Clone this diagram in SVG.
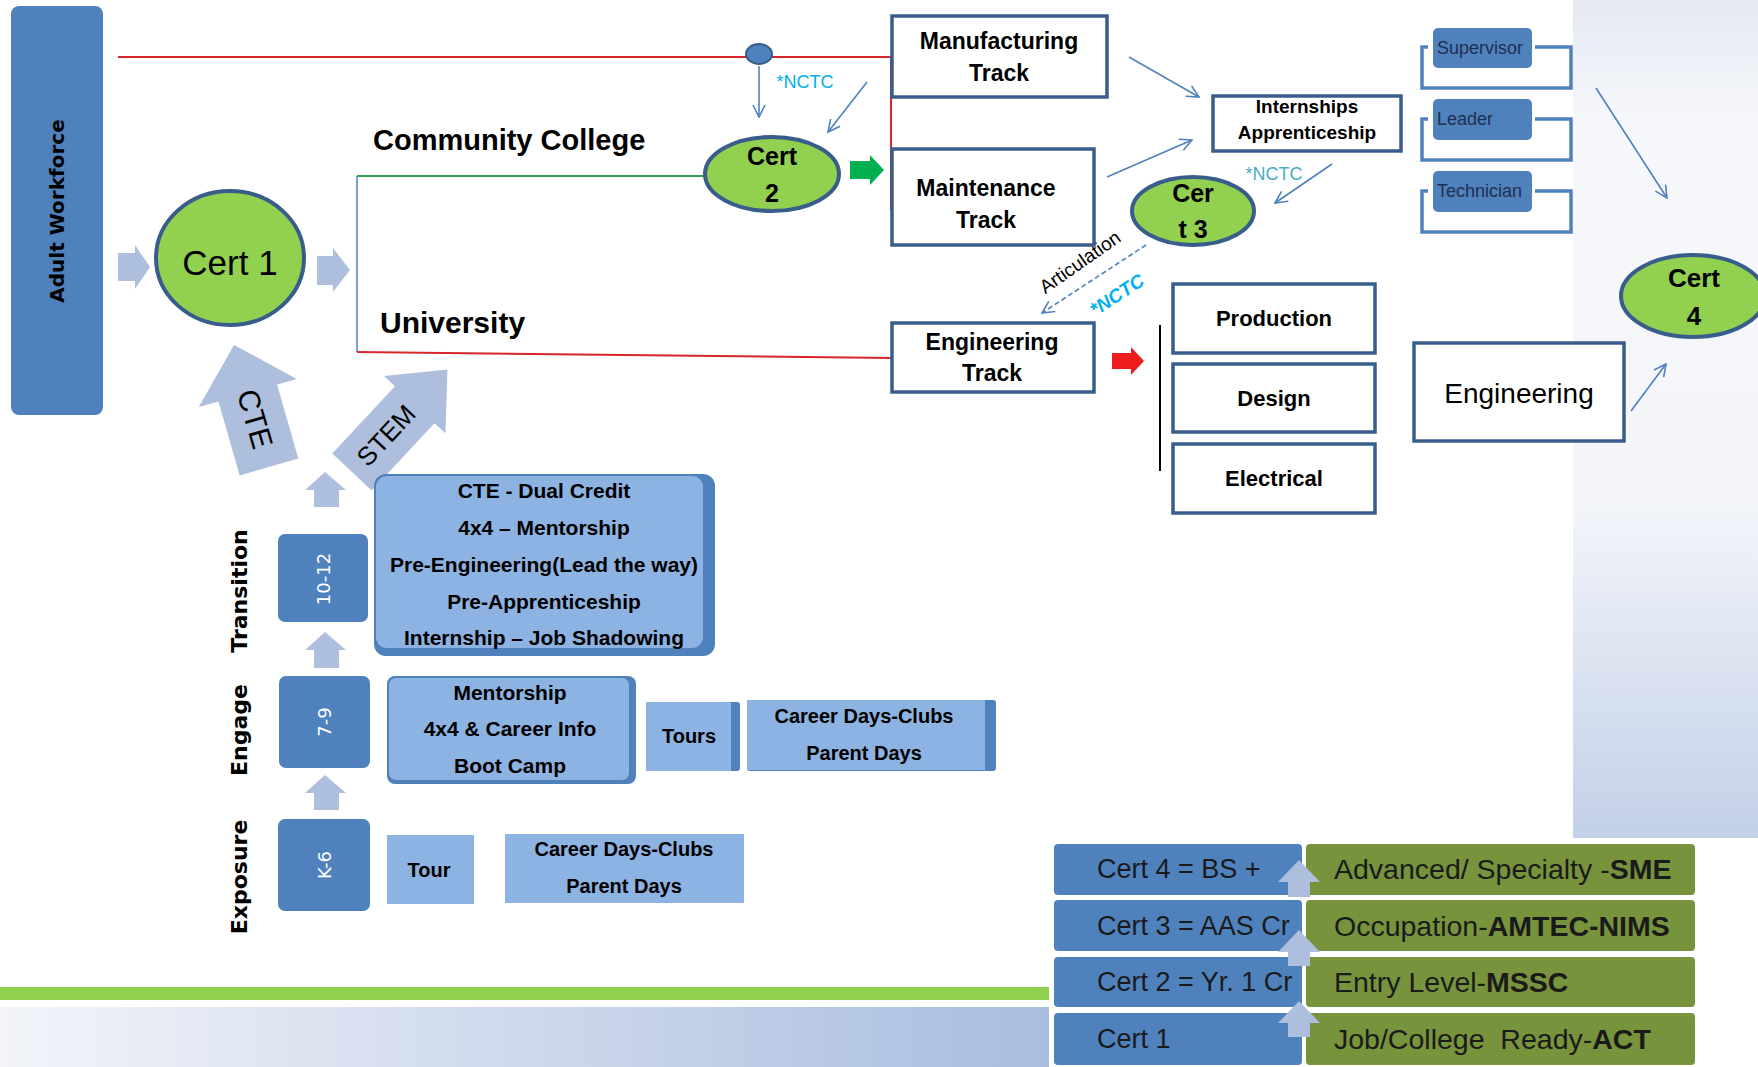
<svg xmlns="http://www.w3.org/2000/svg" width="1758" height="1067" viewBox="0 0 1758 1067">
<defs>
<linearGradient id="gRight" x1="0" y1="0" x2="0" y2="1">
<stop offset="0" stop-color="#e4e9f2"/><stop offset="0.15" stop-color="#f7f8fb"/><stop offset="0.6" stop-color="#f3f5fa"/><stop offset="1" stop-color="#c2d0e8"/>
</linearGradient>
<linearGradient id="gBottom" x1="0" y1="0" x2="1" y2="0">
<stop offset="0" stop-color="#f2f4f9"/><stop offset="1" stop-color="#a9bddf"/>
</linearGradient>
<marker id="arr" viewBox="0 0 14 14" refX="13" refY="7" markerWidth="14" markerHeight="14" markerUnits="userSpaceOnUse" orient="auto">
<path d="M1,1 L13,7 L1,13" fill="none" stroke="#4f81bd" stroke-width="1.6"/>
</marker>
<style>
.t{font-family:"Liberation Sans",Arial,sans-serif;fill:#000}
.v{font-family:"DejaVu Sans",Verdana,sans-serif}
.b{font-weight:bold}
.c{text-anchor:middle;dominant-baseline:central}
.box{fill:#fff;stroke:#385d8a;stroke-width:3.5}
.cert{fill:#92d050;stroke:#385d8a;stroke-width:4}
.thin{stroke:#4f81bd;stroke-width:1.6;fill:none}
.blk{fill:#aebfdd}
.dk{fill:#4f81bd}
.lt{fill:#8db3e2}
.brk{fill:none;stroke:#4f81bd;stroke-width:3.5}
.red{stroke:#d9262b;stroke-width:2;fill:none}
</style>
</defs>

<!-- background panels -->
<rect x="1573" y="0" width="185" height="838" fill="url(#gRight)"/>
<rect x="0" y="987" width="1049" height="13" fill="#92d050"/>
<rect x="0" y="1007" width="1049" height="60" fill="url(#gBottom)"/>

<!-- connectors -->
<g id="connectors">
<path class="red" d="M118,57 H891 V210"/>
<path d="M357,176 H705" stroke="#2e9e4f" stroke-width="2" fill="none"/>
<path d="M357,176 V352" stroke="#4f81bd" stroke-width="1.5" fill="none"/>
<path class="red" d="M357,352 L892,358"/>
<path class="thin" d="M759,66 V117" marker-end="url(#arr)"/>
<path class="thin" d="M867,82 L828,132" marker-end="url(#arr)"/>
<path class="thin" d="M1129,57 L1199,97" marker-end="url(#arr)"/>
<path class="thin" d="M1107,177 L1192,140" marker-end="url(#arr)"/>
<path class="thin" d="M1332,164 L1275,203" marker-end="url(#arr)"/>
<path class="thin" d="M1596,88 L1667,198" marker-end="url(#arr)"/>
<path class="thin" d="M1631,411 L1666,364" marker-end="url(#arr)"/>
<path class="thin" d="M1146,245 L1042,313" stroke-dasharray="5,3" marker-end="url(#arr)"/>
<path d="M1160,325 V471" stroke="#000" stroke-width="2" fill="none"/>
<!-- block arrows -->
<polygon class="blk" points="118,253 135,253 135,245 150,267 135,289 135,281 118,281"/>
<polygon class="blk" points="317,256 333,256 333,248 350,270 333,292 333,285 317,285"/>
<polygon fill="#00b050" points="850,161 870,161 870,155 884,170 870,185 870,179 850,179"/>
<polygon fill="#ee1c1c" points="1112,353 1131,353 1131,347 1144,361 1131,375 1131,369 1112,369"/>
<polygon class="blk" points="325,472 346,490 339,490 339,507 314,507 314,490 305,490"/>
<polygon class="blk" points="325,632 346,650 339,650 339,668 314,668 314,650 305,650"/>
<polygon class="blk" points="325,775 346,793 339,793 339,810 314,810 314,793 305,793"/>
</g>

<g id="adult-workforce">
<rect x="11" y="6" width="92" height="409" rx="8" class="dk"/>
<text class="t v b c" font-size="20" transform="translate(57,211) rotate(-90)">Adult Workforce</text>
</g>

<g id="labels">
<text class="t b" x="373" y="150" font-size="29">Community College</text>
<text class="t b" x="380" y="333" font-size="30">University</text>
<text class="t c" x="805" y="82" font-size="18" style="fill:#00b0f0">*NCTC</text>
<text class="t c" x="1274" y="174" font-size="18" style="fill:#4bacc6">*NCTC</text>
<text class="t c" font-size="19" transform="translate(1080,262) rotate(-35)">Articulation</text>
<text class="t b c" font-size="19" font-style="italic" style="fill:#00b0f0" transform="translate(1117,295) rotate(-33)">*NCTC</text>
</g>

<g id="cert1">
<ellipse cx="230" cy="258" rx="74" ry="67" class="cert"/>
<text class="t c" x="230" y="262" font-size="35">Cert 1</text>
</g>

<g id="cte-arrow" transform="translate(269,467) rotate(-16)">
<polygon class="blk" points="-30.5,0 30.5,0 30.5,-77 51,-77 0,-127 -51,-77 -30.5,-77"/>
<text class="t c" font-size="30" transform="translate(0,-50) rotate(90)">CTE</text>
</g>

<g id="stem-arrow" transform="translate(352,472) rotate(43)">
<polygon class="blk" points="-27,0 27,0 27,-92 42,-92 0,-140 -42,-92 -27,-92"/>
<text class="t c" font-size="26" transform="translate(0,-50) rotate(-90)">STEM</text>
</g>

<g id="blue-dot">
<ellipse cx="759" cy="54" rx="13" ry="10" fill="#4f81bd" stroke="#385d8a" stroke-width="2"/>
</g>

<g id="cert2">
<ellipse cx="772" cy="174" rx="67" ry="37" class="cert"/>
<text class="t b c" x="772" y="156" font-size="25">Cert</text>
<text class="t b c" x="772" y="193" font-size="25">2</text>
</g>

<g id="manufacturing-track">
<rect x="892" y="16" width="215" height="81" class="box"/>
<text class="t b c" x="999" y="41" font-size="23">Manufacturing</text>
<text class="t b c" x="999" y="73" font-size="23">Track</text>
</g>

<g id="maintenance-track">
<rect x="892" y="149" width="202" height="96" class="box"/>
<text class="t b c" x="986" y="188" font-size="23">Maintenance</text>
<text class="t b c" x="986" y="220" font-size="23">Track</text>
</g>

<g id="engineering-track">
<rect x="892" y="323" width="202" height="69" class="box"/>
<text class="t b c" x="992" y="342" font-size="23">Engineering</text>
<text class="t b c" x="992" y="373" font-size="23">Track</text>
</g>

<g id="internships">
<rect x="1213" y="96" width="188" height="55" class="box"/>
<text class="t b c" x="1307" y="106" font-size="19">Internships</text>
<text class="t b c" x="1307" y="132" font-size="19">Apprenticeship</text>
</g>

<g id="cert3">
<ellipse cx="1193" cy="211" rx="61" ry="34" class="cert"/>
<text class="t b c" x="1193" y="193" font-size="25">Cer</text>
<text class="t b c" x="1193" y="229" font-size="25">t 3</text>
</g>

<g id="supervisor">
<path class="brk" d="M1428,47 H1422 V88 H1571 V47 H1535"/>
<rect x="1433" y="28" width="99" height="40" rx="5" class="dk"/>
<text class="t" x="1437" y="48" font-size="18" dominant-baseline="central" style="fill:#1f2f50">Supervisor</text>
</g>
<g id="leader">
<path class="brk" d="M1428,119 H1422 V160 H1571 V119 H1535"/>
<rect x="1433" y="99" width="99" height="41" rx="5" class="dk"/>
<text class="t" x="1437" y="119" font-size="18" dominant-baseline="central" style="fill:#1f2f50">Leader</text>
</g>
<g id="technician">
<path class="brk" d="M1428,191 H1422 V232 H1571 V191 H1535"/>
<rect x="1433" y="171" width="99" height="41" rx="5" class="dk"/>
<text class="t" x="1437" y="191" font-size="18" dominant-baseline="central" style="fill:#1f2f50">Technician</text>
</g>

<g id="production">
<rect x="1173" y="284" width="202" height="69" class="box"/>
<text class="t b c" x="1274" y="318" font-size="22">Production</text>
</g>
<g id="design">
<rect x="1173" y="364" width="202" height="68" class="box"/>
<text class="t b c" x="1274" y="398" font-size="22">Design</text>
</g>
<g id="electrical">
<rect x="1173" y="444" width="202" height="69" class="box"/>
<text class="t b c" x="1274" y="478" font-size="22">Electrical</text>
</g>

<g id="engineering">
<rect x="1414" y="343" width="210" height="98" class="box"/>
<text class="t c" x="1519" y="393" font-size="28">Engineering</text>
</g>

<g id="cert4">
<ellipse cx="1693" cy="296" rx="72" ry="41" class="cert"/>
<text class="t b c" x="1694" y="278" font-size="26">Cert</text>
<text class="t b c" x="1694" y="316" font-size="26">4</text>
</g>

<!-- stages -->
<g id="stage-transition">
<text class="t v b c" font-size="22" transform="translate(239,591) rotate(-90)">Transition</text>
<rect x="278" y="534" width="90" height="88" rx="7" class="dk"/>
<text class="t v c" font-size="18" style="fill:#fff" transform="translate(323,579) rotate(-90)">10-12</text>
</g>
<g id="stage-engage">
<text class="t v b c" font-size="22" transform="translate(239,730) rotate(-90)">Engage</text>
<rect x="279" y="676" width="91" height="92" rx="7" class="dk"/>
<text class="t v c" font-size="18" style="fill:#fff" transform="translate(324,722) rotate(-90)">7-9</text>
</g>
<g id="stage-exposure">
<text class="t v b c" font-size="22" transform="translate(239,877) rotate(-90)">Exposure</text>
<rect x="278" y="819" width="92" height="92" rx="7" class="dk"/>
<text class="t v c" font-size="18" style="fill:#fff" transform="translate(324,865) rotate(-90)">K-6</text>
</g>

<g id="transition-box">
<rect x="374" y="474" width="341" height="182" rx="12" class="dk"/>
<rect x="376" y="476" width="327" height="172" rx="11" class="lt"/>
<text class="t b c" x="544" y="490" font-size="21">CTE - Dual Credit</text>
<text class="t b c" x="544" y="527" font-size="21">4x4 – Mentorship</text>
<text class="t b c" x="544" y="564" font-size="21">Pre-Engineering(Lead the way)</text>
<text class="t b c" x="544" y="601" font-size="21">Pre-Apprenticeship</text>
<text class="t b c" x="544" y="637" font-size="21">Internship – Job Shadowing</text>
</g>

<g id="engage-box">
<rect x="387" y="676" width="249" height="108" rx="8" class="dk"/>
<rect x="389" y="678" width="240" height="102" rx="7" class="lt"/>
<text class="t b c" x="510" y="692" font-size="21">Mentorship</text>
<text class="t b c" x="510" y="728" font-size="21">4x4 &amp; Career Info</text>
<text class="t b c" x="510" y="765" font-size="21">Boot Camp</text>
</g>
<g id="engage-tours">
<rect x="646" y="702" width="94" height="69" rx="3" class="dk"/>
<rect x="646" y="702" width="85" height="69" class="lt"/>
<text class="t b c" x="689" y="736" font-size="20">Tours</text>
</g>
<g id="engage-career">
<rect x="747" y="700" width="249" height="71" rx="3" class="dk"/>
<rect x="747" y="700" width="238" height="70" class="lt"/>
<text class="t b c" x="864" y="716" font-size="20">Career Days-Clubs</text>
<text class="t b c" x="864" y="753" font-size="20">Parent Days</text>
</g>
<g id="exposure-tour">
<rect x="387" y="835" width="87" height="69" class="lt"/>
<text class="t b c" x="429" y="870" font-size="20">Tour</text>
</g>
<g id="exposure-career">
<rect x="505" y="834" width="239" height="69" class="lt"/>
<text class="t b c" x="624" y="849" font-size="20">Career Days-Clubs</text>
<text class="t b c" x="624" y="886" font-size="20">Parent Days</text>
</g>

<!-- bottom table -->
<g id="cert-levels">
<rect x="1054" y="844" width="248" height="51" rx="4" class="dk"/>
<rect x="1054" y="900" width="248" height="51" rx="4" class="dk"/>
<rect x="1054" y="957" width="248" height="50" rx="4" class="dk"/>
<rect x="1054" y="1013" width="248" height="52" rx="4" class="dk"/>
<rect x="1306" y="844" width="389" height="51" rx="4" fill="#77933c"/>
<rect x="1306" y="900" width="389" height="51" rx="4" fill="#77933c"/>
<rect x="1306" y="957" width="389" height="50" rx="4" fill="#77933c"/>
<rect x="1306" y="1013" width="389" height="52" rx="4" fill="#77933c"/>
<g class="t" font-size="27" style="fill:#1a1a1a" dominant-baseline="central">
<text x="1097" y="869">Cert 4 = BS +</text>
<text x="1097" y="926">Cert 3 = AAS Cr</text>
<text x="1097" y="982">Cert 2 = Yr. 1 Cr</text>
<text x="1097" y="1039">Cert 1</text>
</g>
<g class="t" font-size="28.5" style="fill:#1a1a1a" dominant-baseline="central">
<text x="1334" y="869">Advanced/ Specialty -<tspan font-weight="bold">SME</tspan></text>
<text x="1334" y="926">Occupation-<tspan font-weight="bold">AMTEC-NIMS</tspan></text>
<text x="1334" y="982">Entry Level-<tspan font-weight="bold">MSSC</tspan></text>
<text x="1334" y="1039">Job/College&#160; Ready-<tspan font-weight="bold">ACT</tspan></text>
</g>
<polygon class="blk" points="1299,860 1320,882 1310,882 1310,897 1288,897 1288,882 1278,882"/>
<polygon class="blk" points="1299,930 1320,952 1310,952 1310,966 1288,966 1288,952 1278,952"/>
<polygon class="blk" points="1299,1001 1320,1023 1310,1023 1310,1037 1288,1037 1288,1023 1278,1023"/>
</g>
</svg>
